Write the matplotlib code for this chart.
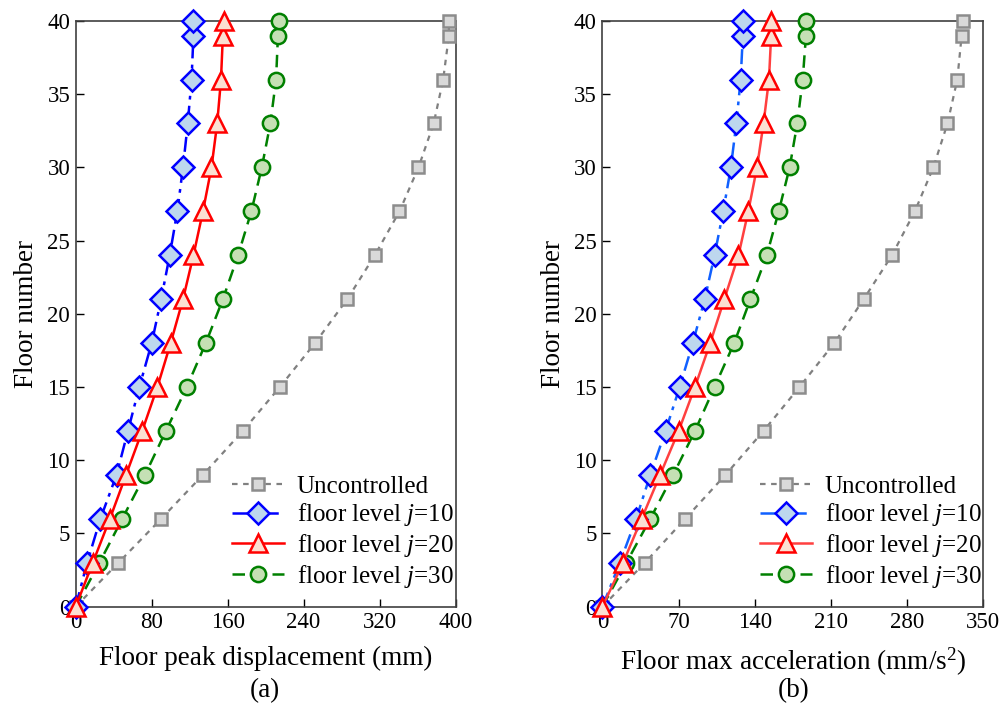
import matplotlib
matplotlib.use("Agg")
import matplotlib.pyplot as plt

plt.rcParams['font.family'] = ['Liberation Serif', 'DejaVu Serif']
plt.rcParams['mathtext.fontset'] = 'custom'
plt.rcParams['mathtext.it'] = 'Liberation Serif:italic'
plt.rcParams['mathtext.rm'] = 'Liberation Serif'

floors = [0, 3, 6, 9, 12, 15, 18, 21, 24, 27, 30, 33, 36, 39, 40]

# (a) Floor peak displacement (mm)
disp_unc = [0, 45, 90, 134, 176, 215, 252, 286, 315, 341, 361, 377, 387, 393, 393]
disp_j10 = [0, 12, 26, 43, 55, 67, 80, 90, 99, 107, 113, 118, 122, 124, 124]
disp_j20 = [0, 18, 36, 53, 70, 86, 100, 113, 124, 134, 143, 149, 153, 155, 156]
disp_j30 = [0, 25, 49, 73, 95, 117, 137, 155, 171, 185, 196, 205, 211, 213, 214]

# (b) Floor max acceleration (mm/s^2)
acc_unc = [0, 39, 76, 113, 148, 181, 213, 240, 266, 287, 304, 317, 326, 330, 331]
acc_j10 = [0, 16, 31, 44, 58, 71, 83, 94, 103, 111, 118, 123, 127, 129, 129]
acc_j20 = [0, 19, 36, 53, 70, 85, 99, 112, 125, 134, 142, 148, 153, 155, 155]
acc_j30 = [0, 22, 44, 65, 85, 103, 121, 136, 151, 162, 172, 179, 184, 187, 187]

labels = ['Uncontrolled', r'floor level $j$=10', r'floor level $j$=20', r'floor level $j$=30']

fig = plt.figure(figsize=(10.04, 7.09), dpi=100)
axA = fig.add_axes([0.0754, 0.1443, 0.3783, 0.8261])
axB = fig.add_axes([0.6000, 0.1443, 0.3795, 0.8261])

def draw(ax, unc, j10, j20, j30, xmax, xticks, blue, red, xlabel):
    ax.plot(unc, floors, linestyle=(0, (2.5, 2.5)), color='#808080', lw=1.6,
            marker='s', ms=9, mfc='#D9D9D9', mec='#8C8C8C', mew=1.8,
            label=labels[0], clip_on=False, zorder=3)
    ax.plot(j10, floors, linestyle=(0, (6, 2.5, 1.5, 2.5)), color=blue, lw=1.8,
            marker='D', ms=11.5, mfc='#BDD7EE', mec='#0000FF', mew=1.8,
            label=labels[1], clip_on=False, zorder=4)
    ax.plot(j20, floors, linestyle='-', color=red, lw=1.8,
            marker='^', ms=13, mfc='#FBE0D2', mec='#FF0000', mew=1.8,
            label=labels[2], clip_on=False, zorder=5)
    ax.plot(j30, floors, linestyle=(0, (5, 3)), color='#008000', lw=1.8,
            marker='o', ms=11, mfc='#C5E0B4', mec='#008000', mew=1.8,
            label=labels[3], clip_on=False, zorder=3)
    ax.set_xlim(0, xmax)
    ax.set_ylim(0, 40)
    ax.set_xticks(xticks)
    ax.set_yticks(range(0, 41, 5))
    ax.tick_params(direction='in', length=6, width=1, labelsize=16.5, pad=4,
                   top=False, right=False)
    for s in ax.spines.values():
        s.set_color('#404040')
        s.set_linewidth(1.2)
    ax.set_xlabel(xlabel, fontsize=19.5, labelpad=9)
    ax.set_ylabel('Floor number', fontsize=19.5, labelpad=6)
    ax.legend(loc='lower right', frameon=False, fontsize=18,
              handlelength=2.1, handletextpad=0.5, labelspacing=0.15,
              borderaxespad=0.2, bbox_to_anchor=(1.034, 0.003))

draw(axA, disp_unc, disp_j10, disp_j20, disp_j30, 400, [0, 80, 160, 240, 320, 400],
     '#0000FF', '#FF0000', 'Floor peak displacement (mm)')
draw(axB, acc_unc, acc_j10, acc_j20, acc_j30, 350, [0, 70, 140, 210, 280, 350],
     '#1060FF', '#FF4040', r'Floor max acceleration (mm/s$^{\mathregular{2}}$)')

fig.text(0.264, 0.026, '(a)', ha='center', va='center', fontsize=19.5)
fig.text(0.79, 0.026, '(b)', ha='center', va='center', fontsize=19.5)

fig.savefig('out.png', dpi=100)
